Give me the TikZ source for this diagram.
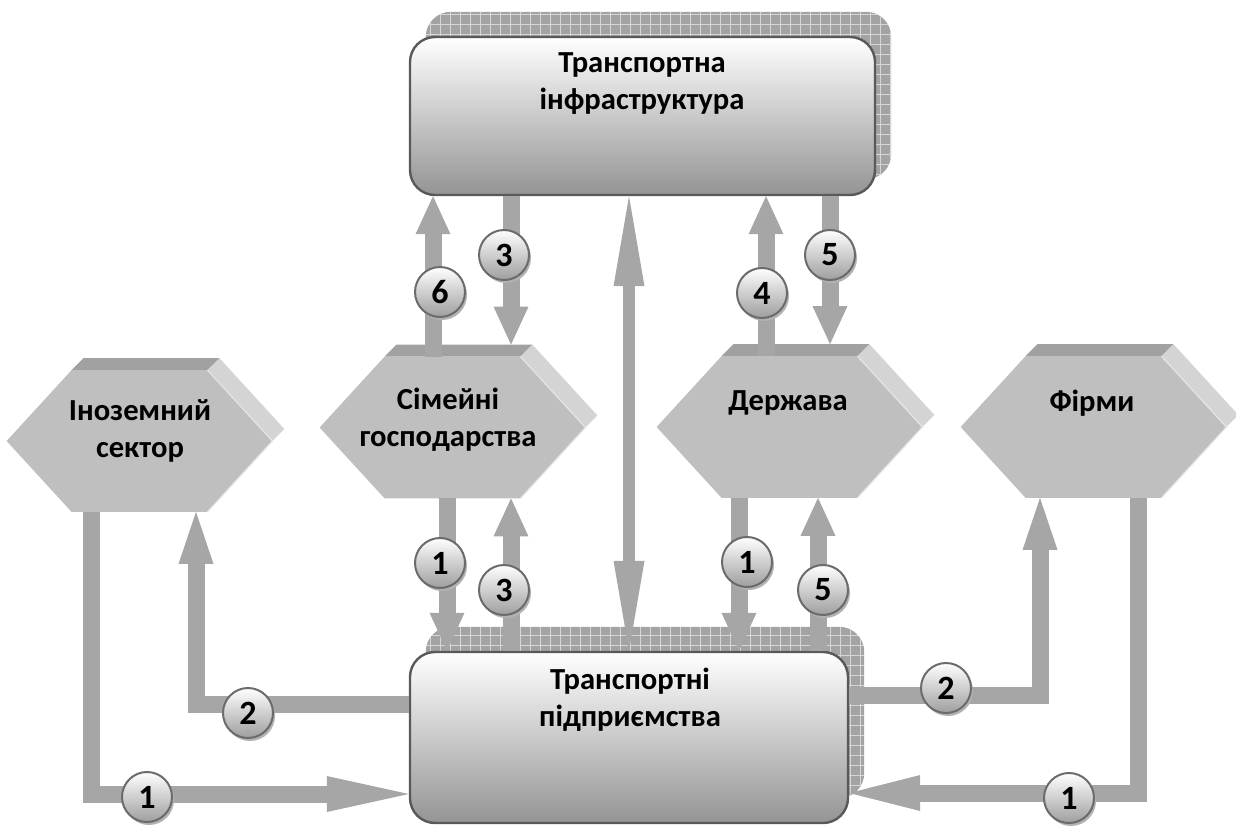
\documentclass[tikz,border=0pt]{standalone}
\usepackage{fontspec}
\setmainfont{Carlito}
\usetikzlibrary{arrows.meta,calc,backgrounds,shadows,patterns.meta}
\newcommand\lblfont{\fontsize{15.3}{18.5}\selectfont\bfseries}
\newcommand\numfont{\fontsize{17}{18}\selectfont\bfseries}

\tikzset{
  box/.style={draw=black!65, line width=1.2pt, rounded corners=12.5pt,
    top color=white, bottom color=black!42, inner sep=0pt},
  boxshadow/.style={rounded corners=12.5pt, fill=black!36,
    postaction={pattern={Hatch[angle=0,distance=5pt,line width=0.5pt]}, pattern color=black!16}},
  hexa/.style={minimum width=132.5pt, minimum height=70.5pt, inner sep=0pt},
  lbl/.style={font=\lblfont, align=center, inner sep=0pt},
  num/.style={circle, minimum size=25pt, inner sep=0pt, draw=black!58, line width=1pt,
    top color=white, bottom color=black!38, font=\numfont,
    drop shadow={shadow xshift=1pt, shadow yshift=-1.5pt, fill=black!30, opacity=1}},
  flow/.style={draw=black!35, line width=8.5pt, line join=miter},
  vtip/.style={-{Triangle[width=17.5pt,length=19pt,line width=0pt]}},
}

\begin{document}
\begin{tikzpicture}[x=0.5pt,y=-0.5pt]
% 1 unit = 1 px of the 1236 x 825 sketch, y grows downwards
\useasboundingbox (0,0) rectangle (1236,825);

\node[box, minimum width=232.5pt, minimum height=79pt] (infra) at (642.5,116) {};
\node[box, minimum width=219pt, minimum height=85.5pt] (ent) at (629,737.5) {};
\node[lbl] (infrat) at (642,84) {Транспортна\\інфраструктура};
\node[lbl] (entt) at (630,700) {Транспортні\\підприємства};

\foreach \n/\x/\y in {ino/139.5/441, sim/452.5/427.5, der/789.5/427, fir/1093.5/427}
  \node[hexa] (\n) at (\x,\y) {};
\node[lbl] (inot) at (140,431) {Іноземний\\сектор};
\node[lbl] (simt) at (448,420) {Сімейні\\господарства};
\node[lbl] (dert) at (788,403) {Держава};
\node[lbl] (firt) at (1092,403) {Фірми};

\begin{scope}[on background layer]
  \fill[boxshadow] ($(infra.north west)+(17,-24)$) rectangle ($(infra.south east)+(15,-17)$);
  \fill[boxshadow] ($(ent.north west)+(17,-24)$) rectangle ($(ent.south east)+(15,-26)$);
  % 3d hexagons: top face, side face, front face
  \foreach \n in {ino,sim,der,fir} {
    \coordinate (tl) at ($(\n.north west)+(65,0)$);
    \coordinate (tr) at ($(\n.north east)+(-65,0)$);
    \coordinate (bl) at ($(\n.south west)+(65,0)$);
    \coordinate (br) at ($(\n.south east)+(-65,0)$);
    \fill[black!37] (tl) -- (tr) -- ($(tr)+(12,-12)$) -- ($(tl)+(12,-12)$) -- cycle;
    \fill[black!17] (tr) -- (\n.east) -- ($(\n.east)+(12,-12)$) -- ($(tr)+(12,-12)$) -- cycle;
    \fill[black!25] (\n.west) -- (tl) -- (tr) -- (\n.east) -- (br) -- (bl) -- cycle;
    \draw[black!10, line width=0.6pt] (tr) -- (\n.east) -- (br);
  }
\end{scope}

% arrows between infrastructure and the sectors
\draw[flow, vtip] ($(sim.north)+(-19.5,0)$) -- ($(sim.north |- infra.south)+(-19.5,0)$);
\draw[flow, vtip] ($(sim.north |- infra.south)+(58.5,0)$) -- ($(sim.north)+(58.5,-12)$);
\draw[flow, vtip] ($(der.north)+(-23.5,0)$) -- ($(der.north |- infra.south)+(-23.5,0)$);
\draw[flow, vtip] ($(der.north |- infra.south)+(40.5,0)$) -- ($(der.north)+(40.5,-12)$);
\draw[flow, line width=6pt, {Triangle[width=15.5pt,length=45pt,line width=0pt]}-{Triangle[width=15.5pt,length=45pt,line width=0pt]}]
  (ent.north |- infra.south) -- (ent.north);

% arrows between the sectors and the enterprises
\draw[flow, vtip] ($(sim.south)+(-5.5,0)$) -- ($(sim.south |- ent.north)+(-5.5,0)$);
\draw[flow, vtip] ($(sim.south |- ent.north)+(58.5,0)$) -- ($(sim.south)+(58.5,0)$);
\draw[flow, vtip] ($(der.south)+(-50.5,0)$) -- ($(der.south |- ent.north)+(-50.5,0)$);
\draw[flow, vtip] ($(der.south |- ent.north)+(28.5,0)$) -- ($(der.south)+(28.5,0)$);

\coordinate (e2l) at ($(ent.west)+(0,-33.5)$);
\coordinate (e1l) at ($(ent.west)+(0,56.5)$);
\coordinate (e2r) at ($(ent.east)+(0,-42.5)$);
\coordinate (e1r) at ($(ent.east)+(0,55.5)$);
\coordinate (i1) at ($(ino.south)+(-48,0)$);
\coordinate (i2) at ($(ino.south)+(56.5,0)$);
\coordinate (f2) at ($(fir.south)+(-53.5,0)$);
\coordinate (f1) at ($(fir.south)+(44.5,0)$);
\draw[flow, -{Triangle[width=17.5pt,length=26pt,line width=0pt]}] (e2l) -| (i2);
\draw[flow, -{Triangle[width=18pt,length=41pt,line width=0pt]}] (i1) |- (e1l);
\draw[flow, -{Triangle[width=17.5pt,length=26pt,line width=0pt]}] (e2r) -| (f2);
\draw[flow, -{Triangle[width=18pt,length=35.5pt,line width=0pt]}] (f1) |- (e1r);

% numbered flows
\foreach \x/\y/\t [count=\i] in {440/292/6, 504/255/3, 762/293/4, 830/255/5,
    440/563/1, 504/590/3, 747/562/1, 823/590/5,
    248/713/2, 147/797/1, 946/688/2, 1069/798/1}
  \node[num] (num\i) at (\x,\y) {\t};
\end{tikzpicture}
\end{document}
